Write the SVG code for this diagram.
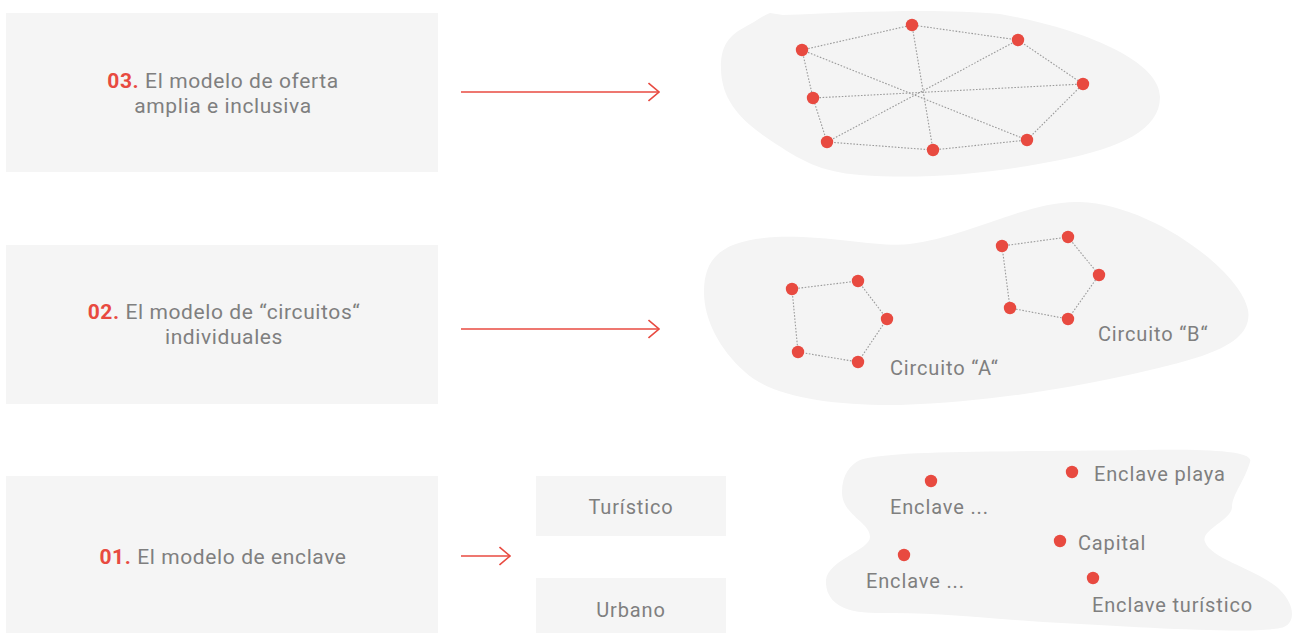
<svg xmlns="http://www.w3.org/2000/svg" width="1296" height="633" viewBox="0 0 1296 633">
  <defs>
    <style>
      .box { fill: #f5f5f5; }
      .blob { fill: #f4f4f4; }
      .txt { font-family: Roboto, "Liberation Sans", sans-serif; fill: #7f7f7f; font-size: 20px; letter-spacing: 0.85px; }
      .ttl { font-family: Roboto, "Liberation Sans", sans-serif; fill: #7f7f7f; font-size: 21px; letter-spacing: 0.6px; text-anchor: middle; }
      .num { fill: #e84a40; font-weight: bold; }
      .mid { text-anchor: middle; }
      .arrow { fill: none; stroke: #e84a40; stroke-width: 1.6; }
      .dots line, .dots polyline, .dots polygon { fill: none; stroke: #9a9a9a; stroke-width: 1.1; stroke-dasharray: 1.6 1.6; }
      .pt { fill: #e84a40; }
    </style>
    <marker id="chev" viewBox="0 0 12 20" refX="11" refY="10" markerWidth="12" markerHeight="20" markerUnits="userSpaceOnUse" orient="auto">
      <path d="M0.5,1 L11,10 L0.5,19" fill="none" stroke="#e84a40" stroke-width="1.6"/>
    </marker>
  </defs>

  <!-- model boxes -->
  <g id="model-03">
    <rect class="box" x="6" y="13" width="432" height="159"/>
    <text class="ttl" x="223" y="88"><tspan class="num">03.</tspan> El modelo de oferta</text>
    <text class="ttl" x="223" y="113">amplia e inclusiva</text>
  </g>
  <g id="model-02">
    <rect class="box" x="6" y="245" width="432" height="159"/>
    <text class="ttl" x="224" y="319"><tspan class="num">02.</tspan> El modelo de “circuitos“</text>
    <text class="ttl" x="224" y="344">individuales</text>
  </g>
  <g id="model-01">
    <rect class="box" x="6" y="476" width="432" height="157"/>
    <text class="ttl" x="223" y="564"><tspan class="num">01.</tspan> El modelo de enclave</text>
  </g>
  <g id="type-turistico">
    <rect class="box" x="536" y="476" width="190" height="60"/>
    <text class="txt mid" x="631" y="514">Turístico</text>
  </g>
  <g id="type-urbano">
    <rect class="box" x="536" y="578" width="190" height="55"/>
    <text class="txt mid" x="631" y="617">Urbano</text>
  </g>

  <!-- connectors -->
  <g id="connectors">
    <line class="arrow" x1="461" y1="92" x2="659" y2="92" marker-end="url(#chev)"/>
    <line class="arrow" x1="461" y1="329" x2="659" y2="329" marker-end="url(#chev)"/>
    <line class="arrow" x1="461" y1="556" x2="510" y2="556" marker-end="url(#chev)"/>
  </g>

  <!-- 03: open network -->
  <g id="network-open">
    <path class="blob" d="M770,13 L783,15 C850,12 940,8 1000,14 C1080,28 1160,60 1160,97 C1160,130 1120,148 1060,160 C1000,172 930,180 860,175 C820,172 800,160 770,140 C740,120 722,100 721,70 C720,45 730,35 745,27 C755,22 762,16 770,13 Z"/>
    <g class="dots">
      <polygon points="802,50 912,25 1018,40 1083,84 1027,140 933,150 827,142 813,98"/>
      <line x1="802" y1="50" x2="1027" y2="140"/>
      <line x1="912" y1="25" x2="933" y2="150"/>
      <line x1="1018" y1="40" x2="827" y2="142"/>
      <line x1="813" y1="98" x2="1083" y2="84"/>
    </g>
    <g class="pt">
      <circle cx="802" cy="50" r="6.2"/>
      <circle cx="912" cy="25" r="6.2"/>
      <circle cx="1018" cy="40" r="6.2"/>
      <circle cx="1083" cy="84" r="6.2"/>
      <circle cx="1027" cy="140" r="6.2"/>
      <circle cx="933" cy="150" r="6.2"/>
      <circle cx="827" cy="142" r="6.2"/>
      <circle cx="813" cy="98" r="6.2"/>
    </g>
  </g>

  <!-- 02: individual circuits -->
  <g id="network-circuits">
    <path class="blob" d="M704,292 C704,255 725,240 775,237 C830,235 880,248 910,244 C970,236 1030,200 1080,202 C1150,204 1240,270 1248,310 C1254,345 1200,358 1150,370 C1090,384 1000,402 900,405 C830,406 770,396 745,372 C720,350 704,320 704,292 Z"/>
    <g id="circuit-a">
      <polygon class="dots" points="792,289 858,281 887,319 858,362 798,352" style="fill:none;stroke:#9a9a9a;stroke-width:1.1;stroke-dasharray:1.6 1.6"/>
      <g class="pt">
        <circle cx="792" cy="289" r="6.2"/>
        <circle cx="858" cy="281" r="6.2"/>
        <circle cx="887" cy="319" r="6.2"/>
        <circle cx="858" cy="362" r="6.2"/>
        <circle cx="798" cy="352" r="6.2"/>
      </g>
      <text class="txt" x="890" y="375">Circuito “A“</text>
    </g>
    <g id="circuit-b">
      <polygon points="1002,246 1068,237 1099,275 1068,319 1010,308" style="fill:none;stroke:#9a9a9a;stroke-width:1.1;stroke-dasharray:1.6 1.6"/>
      <g class="pt">
        <circle cx="1002" cy="246" r="6.2"/>
        <circle cx="1068" cy="237" r="6.2"/>
        <circle cx="1099" cy="275" r="6.2"/>
        <circle cx="1068" cy="319" r="6.2"/>
        <circle cx="1010" cy="308" r="6.2"/>
      </g>
      <text class="txt" x="1098" y="341">Circuito “B“</text>
    </g>
  </g>

  <!-- 01: enclaves -->
  <g id="network-enclaves">
    <path class="blob" d="M860,460 C890,450 1000,452 1143,450 C1200,449 1255,450 1250,462 C1245,480 1232,495 1232,507 C1232,520 1200,530 1205,542 C1212,560 1260,570 1280,590 C1296,606 1296,625 1280,628 C1250,634 1150,628 1043,622 C980,618 940,612 880,613 C840,614 825,600 826,580 C828,560 870,550 870,537 C870,522 842,515 842,492 C842,475 850,465 860,460 Z"/>
    <g id="enclave-1">
      <circle class="pt" cx="931" cy="481" r="6.2"/>
      <text class="txt" x="890" y="514">Enclave ...</text>
    </g>
    <g id="enclave-playa">
      <circle class="pt" cx="1072" cy="472" r="6.2"/>
      <text class="txt" x="1094" y="481">Enclave playa</text>
    </g>
    <g id="capital">
      <circle class="pt" cx="1060" cy="541" r="6.2"/>
      <text class="txt" x="1078" y="550">Capital</text>
    </g>
    <g id="enclave-2">
      <circle class="pt" cx="904" cy="555" r="6.2"/>
      <text class="txt" x="866" y="588">Enclave ...</text>
    </g>
    <g id="enclave-turistico">
      <circle class="pt" cx="1093" cy="578" r="6.2"/>
      <text class="txt" x="1092" y="612">Enclave turístico</text>
    </g>
  </g>
</svg>
